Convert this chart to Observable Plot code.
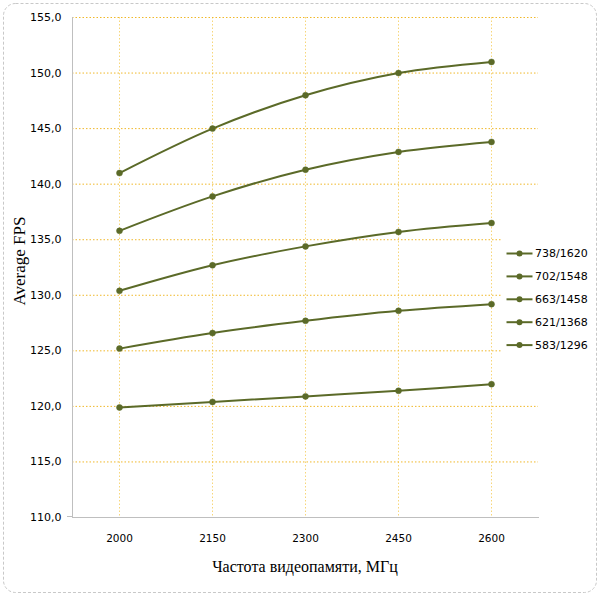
<!DOCTYPE html>
<html>
<head>
<meta charset="utf-8">
<script src="https://cdn.jsdelivr.net/npm/d3@7"></script>
<script src="https://cdn.jsdelivr.net/npm/@observablehq/plot@0.6"></script>
<style>
  html, body { margin: 0; padding: 0; background: #fff; }
  #chart { width: 600px; height: 596px; }
</style>
</head>
<body>
<div id="chart"></div>
<script>
const freqs = ["2000", "2150", "2300", "2450", "2600"];
const seriesNames = ["738/1620", "702/1548", "663/1458", "621/1368", "583/1296"];
const fps738 = [141.0, 145.0, 148.0, 150.0, 151.0];
const fps702 = [135.8, 138.9, 141.3, 142.9, 143.8];
const fps663 = [130.4, 132.7, 134.4, 135.7, 136.5];
const fps621 = [125.2, 126.6, 127.7, 128.6, 129.2];
const fps583 = [119.9, 120.4, 120.9, 121.4, 122.0];
const yTicks = [110, 115, 120, 125, 130, 135, 140, 145, 150, 155];

const allSeries = [fps738, fps702, fps663, fps621, fps583];
const data = [];
seriesNames.forEach((s, i) => freqs.forEach((f, j) => data.push({series: s, freq: f, fps: allSeries[i][j]})));

const lineColor = "#5B6A28";
const fmt = d => d.toFixed(1).replace(".", ",");

const W = 600, H = 596;
const mLeft = 72, mRight = 62, mTop = 17, mBottom = 79;

const chart = Plot.plot({
  width: W,
  height: H,
  marginLeft: mLeft,
  marginRight: mRight,
  marginTop: mTop,
  marginBottom: mBottom,
  style: {background: "#fff", overflow: "visible"},
  x: {type: "point", domain: freqs, padding: 0.5},
  y: {domain: [110, 155]},
  marks: [
    Plot.ruleX(freqs, {x: d => d, stroke: "#F7D67A", strokeDasharray: "1.5,2", strokeWidth: 1}),
    Plot.ruleY(yTicks.slice(1), {y: d => d, stroke: "#F0B82A", strokeDasharray: "1.5,2", strokeWidth: 1}),
    Plot.axisY({ticks: yTicks, tickFormat: fmt, tickSize: 0, tickPadding: 11, label: null,
      fontSize: 11, fontFamily: "DejaVu Sans", fill: "#000"}),
    Plot.axisX({tickSize: 0, tickPadding: 17, label: null, fontSize: 10.5, fontFamily: "DejaVu Sans", fill: "#000"}),
    Plot.frame({anchor: "left", stroke: "#BFBFBF"}),
    Plot.frame({anchor: "bottom", stroke: "#BFBFBF"}),
    Plot.line(data, {x: "freq", y: "fps", z: "series", stroke: lineColor, strokeWidth: 2, curve: "catmull-rom"}),
    Plot.dot(data, {x: "freq", y: "fps", r: 3, fill: lineColor, stroke: lineColor, strokeWidth: 0.5})
  ]
});

document.getElementById("chart").appendChild(chart);

const svg = d3.select(chart);
// outer rounded dashed border
svg.append("rect")
  .attr("x", 3.5).attr("y", 3.5).attr("width", W - 7).attr("height", H - 7)
  .attr("rx", 12).attr("ry", 12)
  .attr("fill", "none").attr("stroke", "#C8C8C8").attr("stroke-dasharray", "3,2");

// small tick stubs left of y axis and below x axis origin
svg.append("line").attr("x1", 67).attr("x2", 72).attr("y1", 516.5).attr("y2", 516.5).attr("stroke", "#BFBFBF");

// axis titles
svg.append("text")
  .attr("x", (mLeft + (W - mRight)) / 2).attr("y", 572)
  .attr("text-anchor", "middle")
  .attr("font-family", "Liberation Serif, DejaVu Serif, serif")
  .attr("font-size", 16)
  .attr("fill", "#000")
  .text("Частота видеопамяти, МГц");

svg.append("text")
  .attr("transform", `translate(25, 261) rotate(-90)`)
  .attr("text-anchor", "middle")
  .attr("font-family", "Liberation Serif, DejaVu Serif, serif")
  .attr("font-size", 17)
  .attr("fill", "#000")
  .text("Average FPS");

// legend
const lg = svg.append("g").attr("text-anchor", "start");
lg.append("rect").attr("x", 502).attr("y", 236).attr("width", 92).attr("height", 120).attr("fill", "#fff");
seriesNames.forEach((s, i) => {
  const y = 253.5 + i * 22.9;
  lg.append("line").attr("x1", 506.5).attr("x2", 532.5).attr("y1", y).attr("y2", y)
    .attr("stroke", lineColor).attr("stroke-width", 2);
  lg.append("circle").attr("cx", 519.5).attr("cy", y).attr("r", 3).attr("fill", lineColor);
  lg.append("text").attr("x", 535).attr("y", y).attr("dy", "0.35em").attr("text-anchor", "start")
    .attr("font-family", "DejaVu Sans").attr("font-size", 11).attr("fill", "#000").text(s);
});
</script>
</body>
</html>
